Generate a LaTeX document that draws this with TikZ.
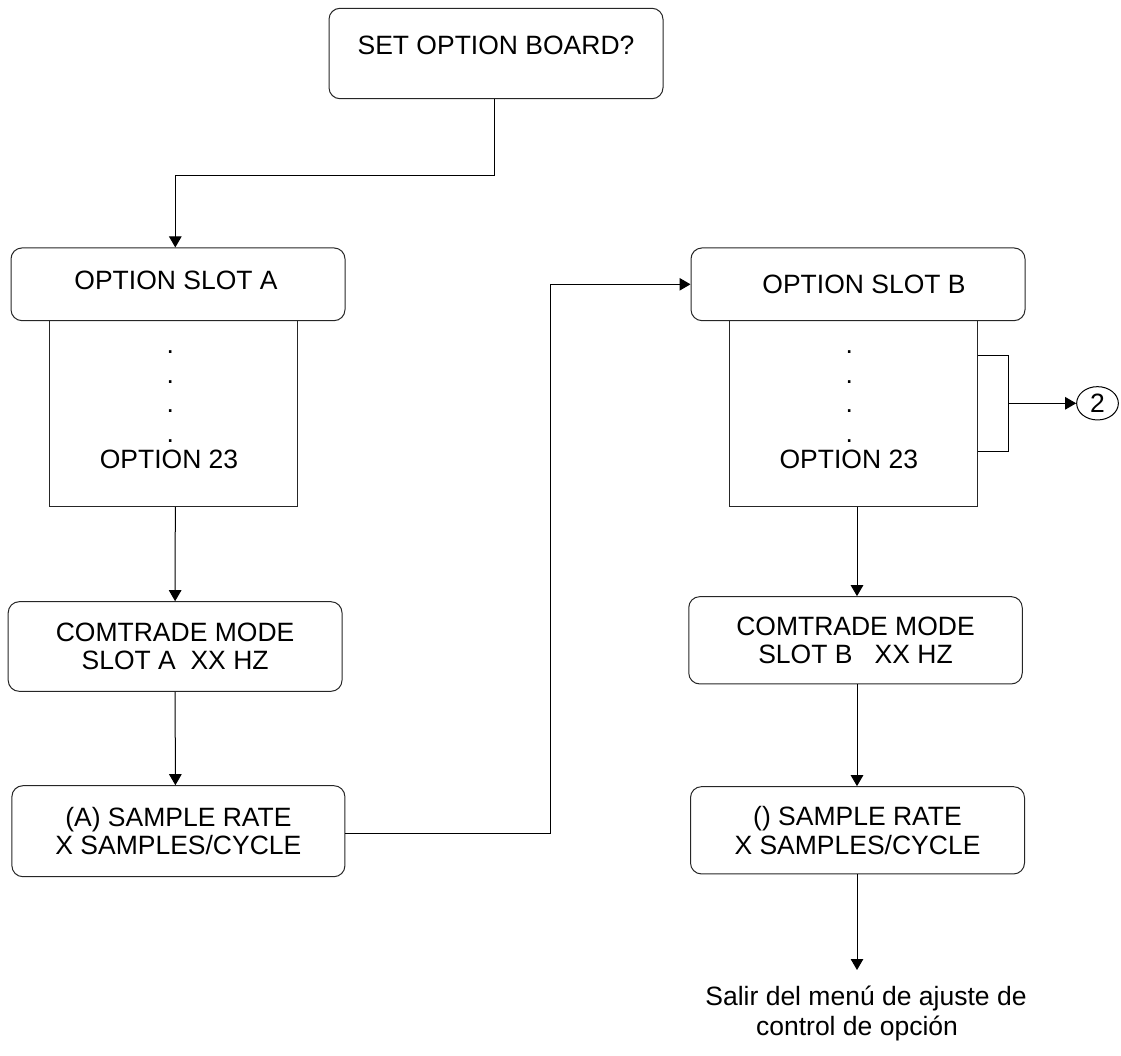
\documentclass[tikz,border=0pt]{standalone}
\usepackage{fontspec}
\setmainfont{Liberation Sans}
\usetikzlibrary{arrows.meta,shapes.geometric}
\begin{document}
\begin{tikzpicture}[x=1pt,y=-1pt,
  txt/.style={font=\fontsize{26.5}{28.5}\selectfont, inner sep=0pt},
  rbox/.style={txt, draw=black!85, line width=1pt, rounded corners=11pt, align=center, minimum width=334pt},
  sbox/.style={draw=black!85, line width=1pt, minimum width=248pt, minimum height=186pt, inner sep=0pt},
  ln/.style={line width=1pt, draw=black},
  arr/.style={ln, -{Triangle[width=12.5pt,length=11pt]}}]
\useasboundingbox (0,0) rectangle (1121,1055);

% nodes
\node[rbox, minimum height=90.4pt, text height=19pt, text depth=18pt] (top) at (496,53.5) {SET OPTION BOARD?};

\node[rbox, minimum height=72.7pt, text height=19pt, text depth=8.6pt] (slotA) at (178,284.3) {OPTION SLOT A\hspace*{4pt}};
\node[sbox] (rectA) at (173.3,413.7) {};
\foreach \yy [count=\i] in {351.7,381.7,411,440.7}
  \node[txt] (dA\i) at (170.3,\yy) {.};
\node[txt] (oA) at (169,459.2) {OPTION 23};

\node[rbox, minimum width=333.8pt, minimum height=89.6pt] (comA) at (175.1,646.5) {COMTRADE MODE\\SLOT A\ \ XX HZ};
\node[rbox, minimum width=333pt, minimum height=91pt] (sampA) at (178.4,831.2) {(A) SAMPLE RATE\\X SAMPLES/CYCLE};

\node[rbox, minimum height=72.7pt, text height=19pt, text depth=0pt] (slotB) at (858,284.3) {\hspace*{12pt}OPTION SLOT B};
\node[sbox] (rectB) at (853.3,413.7) {};
\foreach \yy [count=\i] in {351.7,381.7,411,440.7}
  \node[txt] (dB\i) at (849.3,\yy) {.};
\node[txt] (oB) at (848.8,459.2) {OPTION 23};

\node[txt, ellipse, draw=black, line width=1pt, minimum width=41.7pt, minimum height=33.3pt] (c2) at (1097.5,403.3) {2};

\node[rbox, minimum width=333.5pt, minimum height=87.3pt] (comB) at (855.5,640.3) {COMTRADE MODE\\SLOT B\ \ \ XX HZ};
\node[rbox, minimum width=334pt, minimum height=87.3pt] (sampB) at (857.5,830.3) {() SAMPLE RATE\\X SAMPLES/CYCLE};

\node[txt, align=center, font=\fontsize{26.5}{30}\selectfont, anchor=north] (exit) at (866,985.5) {Salir del menú de ajuste de\\control de opción\hspace*{18pt}};
\coordinate (exitTip) at (857,970);

% connectors
\draw[arr] ([shift={(-1.3,0)}]top.south) -- ++(0,76.3) -| ([shift={(-2.7,0)}]slotA.north);
\draw[arr] ([shift={(2,0)}]rectA.south) -- (comA.north);
\draw[arr] (comA.south) -- ([shift={(-3,0)}]sampA.north);
\draw[arr] ([shift={(0,2)}]sampA.east) -- ++(205,0) |- (slotB.west);
\draw[arr] ([shift={(3.7,0)}]rectB.south) -- ([shift={(1.5,0)}]comB.north);
\draw[arr] ([shift={(1.5,0)}]comB.south) -- ([shift={(-0.5,0)}]sampB.north);
\draw[arr] ([shift={(-0.5,0)}]sampB.south) -- (exitTip);

% bracket on slot B list
\coordinate (brT) at ([shift={(30.7,-58.7)}]rectB.east);
\coordinate (brM) at ([shift={(30.7,-10.4)}]rectB.east);
\draw[ln] ([shift={(0,-58.7)}]rectB.east) -- (brT) -- ([shift={(30.7,37.3)}]rectB.east) -- ([shift={(0,37.3)}]rectB.east);
\draw[arr] (brM) -- (c2.west);
\end{tikzpicture}
\end{document}
